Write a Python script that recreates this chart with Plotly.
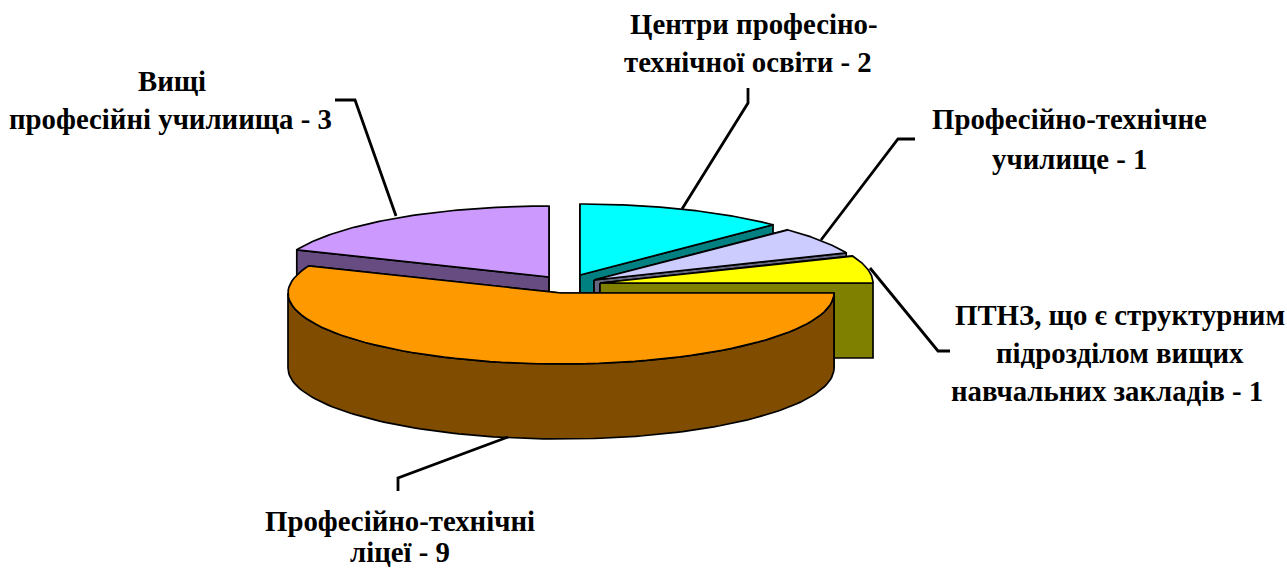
import numpy as np
import plotly.graph_objects as go

# --- data -------------------------------------------------------------
categories = ["Центри професіно-технічної освіти", "Професійно-технічне училище",
              "ПТНЗ, що є структурним підрозділом вищих навчальних закладів",
              "Професійно-технічні ліцеї", "Вищі професійні училиища"]
values = [2, 1, 1, 9, 3]

# --- style ------------------------------------------------------------
top_colors = ["#00FFFF", "#CCCCFF", "#FFFF00", "#FF9900", "#CC99FF"]
side_colors = ["#008080", "#666680", "#808000", "#804D00", "#664C80"]
centers_x = [580, 594, 600, 561, 549]
centers_y = [275, 280, 283, 293, 277]
draw_order = [4, 0, 1, 2, 3]
RX, RY, DEPTH = 273, 71, 75

label_lines = ["Вищі", "професійні училиища - 3",
               "Центри професіно-", "технічної освіти - 2",
               "Професійно-технічне", "училище - 1",
               "ПТНЗ, що є структурним", "підрозділом вищих", "навчальних закладів - 1",
               "Професійно-технічні", "ліцеї - 9"]
label_x = [172, 170, 754, 748, 1069, 1069, 1120, 1120, 1107, 400, 400]
label_y = [81, 119, 24, 62, 119, 159, 315, 353, 391, 521, 552]

leader_x = [[335, 355, 396], [748, 748, 682], [915, 898, 821], [950, 938, 870], [398, 398, 508]]
leader_y = [[100, 100, 216], [88, 103, 209], [139, 139, 240], [351, 351, 268], [491, 478, 437]]

# --- build ------------------------------------------------------------
fractions = np.array(values, dtype=float) / sum(values)
ends = np.cumsum(fractions) * 2 * np.pi
starts = ends - fractions * 2 * np.pi


def px(cx, angle):
    return cx + RX * np.sin(angle)


def py(cy, angle):
    return cy - RY * np.cos(angle)


fig = go.Figure()


def poly(xs, ys, color, name):
    fig.add_trace(go.Scatter(x=list(xs), y=list(ys), mode="lines", fill="toself",
                             fillcolor=color, name=name, hoverinfo="skip",
                             line=dict(color="#000000", width=1.7)))


for i in draw_order:
    cx, cy = centers_x[i], centers_y[i]
    a0, a1 = starts[i], ends[i]
    arc = np.linspace(a0, a1, 80)
    ax, ay = px(cx, arc), py(cy, arc)
    # radial walls
    for a in (a0, a1):
        ex, ey = px(cx, a), py(cy, a)
        poly([cx, ex, ex, cx, cx], [cy, ey, ey + DEPTH, cy + DEPTH, cy], side_colors[i], categories[i])
    # outer wall: only the part of the rim that faces the viewer
    f0, f1 = max(a0, np.pi / 2), min(a1, 3 * np.pi / 2)
    if f1 > f0:
        farc = np.linspace(f0, f1, 120)
        fx, fy = px(cx, farc), py(cy, farc)
        poly(np.r_[fx, fx[::-1], fx[0]], np.r_[fy, fy[::-1] + DEPTH, fy[0]], side_colors[i], categories[i])
    # top
    poly(np.r_[cx, ax, cx], np.r_[cy, ay, cy], top_colors[i], categories[i])

for lx, ly in zip(leader_x, leader_y):
    fig.add_trace(go.Scatter(x=lx, y=ly, mode="lines", hoverinfo="skip",
                             line=dict(color="#000000", width=2.8)))

for t, x, y in zip(label_lines, label_x, label_y):
    fig.add_annotation(x=x, y=y, text="<b>" + t + "</b>", showarrow=False, xanchor="center", yanchor="middle",
                       font=dict(family="Liberation Serif", size=28.8, color="#000000"))

fig.update_layout(width=1287, height=569, margin=dict(l=0, r=0, t=0, b=0),
                  paper_bgcolor="#FFFFFF", plot_bgcolor="#FFFFFF", showlegend=False,
                  xaxis=dict(range=[0, 1287], visible=False, fixedrange=True),
                  yaxis=dict(range=[569, 0], visible=False, fixedrange=True))
fig.write_html("out.html", config={"displayModeBar": False},
               post_script="document.body.style.margin='0';document.body.style.overflow='hidden';")
